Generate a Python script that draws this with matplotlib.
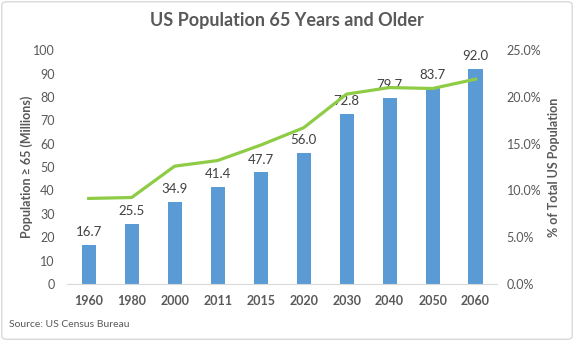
import matplotlib.pyplot as plt
from matplotlib.patches import FancyBboxPatch
from matplotlib.ticker import PercentFormatter

years = ["1960", "1980", "2000", "2011", "2015", "2020", "2030", "2040", "2050", "2060"]
pop_millions = [16.7, 25.5, 34.9, 41.4, 47.7, 56.0, 72.8, 79.7, 83.7, 92.0]
pct_of_total = [9.15, 9.25, 12.6, 13.2, 14.85, 16.7, 20.3, 21.0, 20.9, 21.9]

plt.rcParams['font.family'] = ['Lato', 'DejaVu Sans']
grey = '#595959'

fig = plt.figure(figsize=(5.74, 3.41), dpi=100)
ax = fig.add_axes([0.117, 0.167, 0.749, 0.686])
x = range(len(years))
bars = ax.bar(x, pop_millions, width=0.33, color='#5B9BD5', zorder=2)
for xi, v in zip(x, pop_millions):
    ax.annotate(f"{v:.1f}", (xi, v), xytext=(0, 5), textcoords='offset points',
                ha='center', va='bottom', fontsize=9.5, color='#404040')

ax.set_xlim(-0.5, len(years) - 0.5)
ax.set_ylim(0, 100)
ax.set_yticks(range(0, 101, 10))
ax.set_xticks(list(x))
ax.set_xticklabels(years, fontweight='bold')
ax.tick_params(length=0, labelsize=9, colors=grey)
ax.tick_params(axis='x', pad=8)
ax.tick_params(axis='y', pad=9)
for s in ['top', 'right', 'left']:
    ax.spines[s].set_visible(False)
ax.spines['bottom'].set_color('#D9D9D9')
ax.set_ylabel("Population \u2265 65 (Millions)", fontsize=9, fontweight='bold', color=grey, labelpad=0)

ax2 = ax.twinx()
ax2.plot(list(x), pct_of_total, color='#8FCC45', linewidth=2.3, zorder=3)
ax2.set_ylim(0, 25)
ax2.set_yticks(range(0, 26, 5))
ax2.yaxis.set_major_formatter(PercentFormatter(decimals=1))
ax2.tick_params(length=0, labelsize=9, colors=grey, pad=7)
for s in ['top', 'right', 'left', 'bottom']:
    ax2.spines[s].set_visible(False)
ax2.set_ylabel("% of Total US Population", fontsize=9, fontweight='bold', color=grey, labelpad=5)

fig.text(0.5, 0.94, "US Population 65 Years and Older", ha='center', va='center',
         fontsize=13, fontweight='bold', color=grey)
fig.text(0.016, 0.047, "Source: US Census Bureau", ha='left', va='center', fontsize=7.5, color=grey)

fig.patches.append(FancyBboxPatch((0.003, 0.005), 0.994, 0.99, boxstyle="round,pad=0,rounding_size=0.01",
                                  transform=fig.transFigure, fill=False, edgecolor='#D9D9D9', linewidth=1))

fig.savefig("out.png", dpi=100)
